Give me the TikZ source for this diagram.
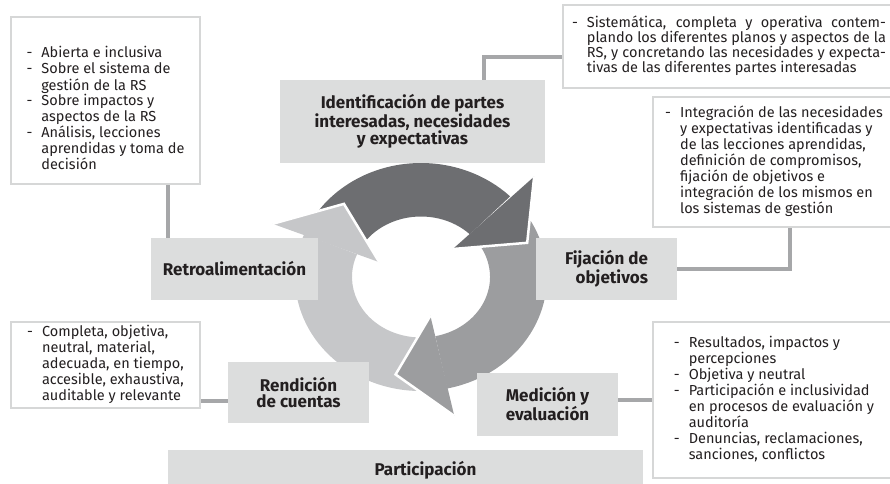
\documentclass[tikz,border=0pt]{standalone}
\usepackage{fontspec}
\setmainfont{Fira Sans}
\usepackage{tikz}
\usetikzlibrary{positioning}

\definecolor{ringdark}{HTML}{6D6E71}
\definecolor{ringmid}{HTML}{9C9D9F}
\definecolor{ringlight}{HTML}{C6C7C9}
\definecolor{boxgray}{HTML}{DCDDDD}
\definecolor{noteline}{HTML}{D6D7D7}
\definecolor{connline}{HTML}{A6A7A9}
\definecolor{textblack}{HTML}{231F20}

\newcommand{\notefont}{\fontsize{14.5}{15.3}\selectfont}
\newcommand{\labelfont}{\fontsize{17}{16.5}\selectfont\bfseries}

\begin{document}
\begin{tikzpicture}[
  x=1pt, y=-1pt,
  labelbox/.style={fill=boxgray,inner sep=0pt,align=center,font=\labelfont,text=textblack},
  notebox/.style={draw=noteline,line width=2pt,fill=white,inner sep=0pt,font=\notefont,text=textblack},
  conn/.style={draw=connline,line width=4pt}
]
\useasboundingbox (0,0) rectangle (890,483);

\begin{scope}[shift={(421,277)}]
\foreach \t/\b/\c in {152/45/ringdark, 40/-78/ringmid, -83/-202/ringlight}
  \fill[\c] (\t:126pt and 114pt) arc[start angle=\t, end angle=\b, x radius=126pt, y radius=114pt]
    -- (\b:69pt and 60.5pt) arc[start angle=\b, end angle=\t, x radius=69pt, y radius=60.5pt] -- cycle;
\foreach \b/\c [evaluate=\b as \p using \b-25] in {45/ringdark, -78/ringmid, -202/ringlight}{
  \fill[\c] (\b:160pt and 142pt) -- (\p:113pt and 100pt) -- (\b:45pt and 39.6pt) -- cycle;
  \draw[white, line width=2.5pt] (\b:160pt and 142pt) -- (\p:113pt and 100pt) -- (\b:45pt and 39.6pt);
}
\end{scope}

\node[labelbox, minimum width=265, minimum height=83] (ident) at (412.5,121.5)
  {Identificación de partes\\interesadas, necesidades\\y expectativas};
\node[labelbox, minimum width=141, minimum height=62, align=right] (fij) at (606.5,269)
  {Fijación de\\objetivos};
\node[labelbox, minimum width=167, minimum height=62] (retro) at (234.5,269)
  {Retroalimentación};
\node[labelbox, minimum width=141, minimum height=61] (rend) at (298.5,392.5)
  {Rendición\\de cuentas};
\node[labelbox, minimum width=141, minimum height=63] (med) at (547.5,404.5)
  {Medición y\\evaluación};
\node[labelbox, minimum width=475, minimum height=40] (part) at (405.5,470)
  {\hspace{40pt}Participación};

\node[notebox, minimum width=189, minimum height=167] (tl) at (105.5,100.5)
  {\raisebox{-10pt}[\height][\depth]{\begin{tabular}{@{}l@{\hspace{9pt}}l@{}}
  - & Abierta e inclusiva\\
  - & Sobre el sistema de\\
    & gestión de la RS\\
  - & Sobre impactos y\\
    & aspectos de la RS\\
  - & Análisis, lecciones\\
    & aprendidas y toma de\\
    & decisión
  \end{tabular}}};
\node[notebox, minimum width=332, minimum height=83] (tr) at (729,46.5)
  {\begin{tabular}{@{}l@{\hspace{9pt}}p{299pt}@{}}
  - & Sistemática, completa y operativa contem-\linebreak
      plando los diferentes planos y aspectos de la\linebreak
      RS, y concretando las necesidades y expecta-\linebreak
      tivas de las diferentes partes interesadas
  \end{tabular}};
\node[notebox, minimum width=242, minimum height=130] (obj) at (774,162)
  {\begin{tabular}{@{}l@{\hspace{9pt}}l@{}}
  - & Integración de las necesidades\\
    & y expectativas identificadas y\\
    & de las lecciones aprendidas,\\
    & definición de compromisos,\\
    & fijación de objetivos e\\
    & integración de los mismos en\\
    & los sistemas de gestión
  \end{tabular}};
\node[notebox, minimum width=189, minimum height=86] (bl) at (105.5,365)
  {\begin{tabular}{@{}l@{\hspace{9pt}}l@{}}
  - & Completa, objetiva,\\
    & neutral, material,\\
    & adecuada, en tiempo,\\
    & accesible, exhaustiva,\\
    & auditable y relevante
  \end{tabular}};
\node[notebox, minimum width=242, minimum height=156] (br) at (774,400)
  {\begin{tabular}{@{}l@{\hspace{9pt}}l@{}}
  - & Resultados, impactos y\\
    & percepciones\\
  - & Objetiva y neutral\\
  - & Participación e inclusividad\\
    & en procesos de evaluación y\\
    & auditoría\\
  - & Denuncias, reclamaciones,\\
    & sanciones, conflictos
  \end{tabular}};

\draw[conn] ([xshift=17pt]retro.north west) -- ([xshift=17pt]retro.north west |- tl.south);
\draw[conn] ([xshift=-61pt]ident.north east) |- ([yshift=-10.5pt]tr.west);
\draw[conn] (fij.east) -| ([xshift=16pt]obj.south);
\draw[conn] ([yshift=-8.5pt]rend.west) -- ([yshift=-8.5pt]rend.west -| bl.east);
\draw[conn] ([yshift=4.5pt]med.east) -- ([yshift=4.5pt]med.east -| br.west);

\end{tikzpicture}
\end{document}
